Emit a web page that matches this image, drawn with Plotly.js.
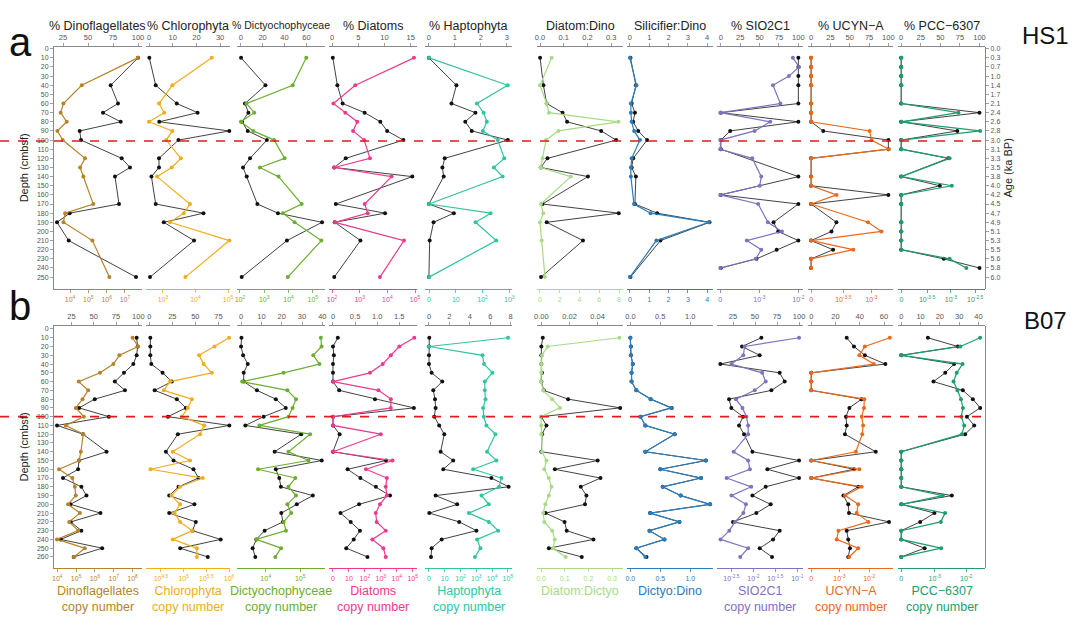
<!DOCTYPE html>
<html>
<head>
<meta charset="utf-8">
<script src="https://cdn.plot.ly/plotly-3.0.1.min.js"></script>
<style>body{margin:0;background:#fff}#chart{width:1080px;height:625px}</style>
</head>
<body>
<div id="chart"></div>
<script>
// ---- data: panel a (HS1) ----
const depthA = [10,40,60,70,80,90,100,120,130,140,170,180,190,210,250];
const dinoPctA = [100,72.7,80,65,82.7,41.7,43,83.7,92,77,81,31.7,19,30.7,98];
const dinoCopyA = [7.70,4.64,3.64,3.49,3.82,3.31,3.6,4.82,4.55,4.73,5.27,3.73,3.64,5.22,6.15];
const chloPctA = [0.1,2.8,11.7,20.5,4.3,33.9,12.4,4.2,4.2,1,2.8,23,6.2,19,0.4];
const chloCopyA = [4.50,3.29,2.88,3.04,2.57,3.29,3.10,3.55,3.27,2.82,3.83,3.64,3.22,5.04,3.69];
const dictPctA = [0.3,22.6,3.9,7,1.2,6.4,23.9,8.5,2.1,5.5,15.2,34,74.3,42.2,0.9];
const dictCopyA = [4.73,4.17,2.27,2.59,2.04,2.55,3.41,3.84,2.82,3.59,4.54,3.77,4.25,5.35,3.97];
const diatPctA = [0.13,1.0,2.0,6.2,9.2,10.5,13.6,2.6,0.4,15.3,0.7,10.1,0.5,5.4,0.4];
const diatCopyA = [4.96,2.84,2.05,2.48,2.91,2.76,3.16,3.37,2.08,4.15,3.18,3.29,2.11,4.6,3.73];
const haptPctA = [0,1.06,0.87,1.79,1.4,1.65,3.04,0.61,0.52,0.57,0,0.96,0.18,0.03,0];
const haptCopyA = [0,2.94,1.79,2.04,2.16,2.01,2.57,2.81,2.42,2.75,0,2.3,1.74,2.51,0];
const diatDinoA = [0,0.014,0.028,0.095,0.114,0.258,0.321,0.031,0.003,0.202,0.01,0.332,0.028,0.181,0.004];
const diatDinoCopyA = [1.18,0,0.68,0.91,7.93,1.86,0.61,0.27,0.07,3.11,0.1,0.34,0,0.17,0.51];
const silDinoA = [0.03,0.31,0.09,0.26,0.17,0.43,0.89,0.17,0.09,0.31,0.26,1.41,4.12,1.58,0.03];
const silDinoCopyA = [0,0.34,0.05,0.05,0.09,0.22,0.52,0.09,0.05,0.05,0.21,1.07,4.09,1.37,0];
const depthA2 = [10,20,30,40,60,70,80,90,100,110,120,140,150,160,170,190,200,210,220,230,240];
const sioDepthA = [10,20,30,40,60,70,80,90,100,110,140,160,170,190,200,210,220,230,240];
const sioPctA = [100,100,100,100,100,0,100,12,0,0,100,0,100,68,74,100,72,46,0];
const sioCopyA = [1.86,2.02,1.76,1.35,1.54,0,1.28,0.88,0,0,0.82,1.05,1.01,0,0.97,1.22,1.58,0.68,1.05,0.91,0];
const ucynPctA = [0,0,0,0,0,0,0,15.7,100,100,0,0,0,100,0,32.8,26.4,0,28.5,0,0];
const ucynCopyA = [0,0,0,0,0,0,0,1.82,1.88,2.42,0,0,0,0.79,0,1.77,2.19,0,1.31,0,0];
const pccPctA = [0,0,0,0,0,100,0,71.7,0,0,60,0,49.4,0,0,0,0,0,0,54.4,100];
const pccCopyA = [0,0,0,0,0,2.32,0,3.2,0,0,1.96,0,2.05,0,0,0,0,0,0,1.96,2.64];
const ageTicks = ['0.0','0.3','0.7','1.0','1.4','1.7','2.1','2.4','2.6','2.8','3.0','3.1','3.3','3.5','3.8','4.0','4.2','4.5','4.7','4.9','5.1','5.3','5.5','5.6','5.8','6.0'];

// ---- data: panel b (B07) ----
const depthB = [10,20,30,40,50,60,70,80,90,100,110,120,140,150,160,170,180,190,200,210,220,230,240,250,260];
const dinoPctB = [98.1,99.2,98.1,94.4,83.9,73.7,85,51.2,33.6,67,8.9,38.1,64.4,33.6,32.5,15.6,36.2,41.9,23.9,57.6,24.3,36.2,13,59.5,27.6];
const dinoCopyB = [8.0,8.29,7.30,6.98,6.27,5.14,5.64,5.34,4.98,5.41,4.45,5.38,5.25,5.16,4.09,4.80,4.93,4.98,4.57,5.2,4.63,5.11,3.98,5.46,4.88];
const chloPctB = [1.1,1.1,1.1,2.2,14.4,24.5,5.8,29.9,39.7,20.2,86.9,31,18,26.3,48,53.4,31.7,21.6,49,21.6,50.5,46.9,77.5,33.5,63.5];
const chloCopyB = [6.0,5.68,5.34,5.44,5.62,4.70,4.56,5.18,5.09,4.96,5.45,5.36,4.76,5.14,4.27,5.42,4.92,4.73,4.92,4.80,4.92,5.19,4.76,5.29,5.29];
const dictPctB = [0.2,0,1,3.3,1.3,1.3,7.8,17.1,22,11.1,2.1,29.6,16.5,39.7,17.1,18.8,19.6,35.3,27.4,19.8,20.6,11.6,7.5,5.7,7];
const dictCopyB = [5.60,5.62,5.38,5.56,4.52,3.32,4.63,4.88,4.78,4.66,3.82,5.29,4.66,5.24,3.78,4.86,4.66,4.88,4.63,4.74,4.52,4.59,3.73,4.45,4.28];
const diatPctB = [0.11,0,0.02,0,0,0,0.14,0.95,1.83,0,0,0.15,0,1.2,0.33,0.62,0.97,1.29,0.59,0.17,0.4,0.61,0.47,0.3,0.78];
const diatCopyB = [5.1,4.16,3.63,3.12,2.32,0,2.85,3.63,3.63,0,0,3.0,0,3.73,2.07,3.38,3.31,3.38,2.95,2.68,2.74,3.31,2.47,3.16,3.31];
const haptPctB = [0.03,0,0,0,0.26,1.3,0.42,0.59,0.65,0.52,1.0,1.5,1.14,2.37,1.4,6.11,7.8,0.65,2.76,0.03,2.96,4.65,1.24,0.26,0.2];
const haptCopyB = [5.01,0,3.39,3.49,4.02,3.54,3.54,3.58,3.43,3.47,3.64,4.21,3.68,4.27,2.8,4.59,4.44,3.33,3.79,2.53,3.79,4.38,3.05,3.26,2.91];
const diatDictB = [0.001,0,0,0,0.0005,0,0.0017,0.019,0.056,0,0.0036,0.0005,0,0.04,0.0096,0.042,0.028,0.032,0.031,0.003,0.0165,0.018,0.037,0.0053,0.0287];
const diatDictCopyB = [0.331,0.028,0.004,0.001,0.001,0,0.009,0.047,0.08,0,0.001,0.001,0.004,0.023,0.014,0.033,0.044,0.033,0.018,0.009,0.014,0.047,0.058,0.051,0.104];
const dictDinoB = [0,0.01,0.01,0.04,0.02,0.02,0.1,0.34,0.69,0.17,0.25,0.74,0.25,1.26,0.5,1.18,0.54,0.84,1.33,0.33,0.82,0.32,0.57,0.1,0.27];
const dictDinoCopyB = [0,0.01,0.01,0.04,0.02,0.02,0.1,0.34,0.68,0.17,0.25,0.74,0.25,1.26,0.5,1.18,0.54,0.84,1.33,0.33,0.82,0.32,0.57,0.1,0.25];
const sioPctB = [57.2,35.2,55.3,10.6,78,83.7,68.6,20.5,23.1,36.4,31.8,37.5,47,100,64,100,62.1,47,67.8,51.5,25,78,70.5,55.3,69.3];
const sioCopyB = [-0.96,-2.2,-2.23,-2.5,-1.8,-1.72,-1.97,-2.4,-2.25,-2.16,-2.12,-2.12,-2.45,-2.12,-2.08,-2.61,-2.05,-2.5,-2.17,-2.23,-2.42,-2.55,-2.75,-2.12,-2.3];
const ucynPctB = [29.2,35.2,44.2,61.1,0,0,0,41.5,31.4,28.6,29.2,27.8,53.2,0,35.2,0,38.7,26.5,30.5,31.1,64.1,29.2,30.5,31.9,30.5];
const ucynCopyB = [2.71,1.85,1.66,2.16,0,0,0,1.83,1.82,1.74,1.79,1.76,1.54,0,1.66,0,1.74,1.17,1.62,1.57,1.97,0.94,0.88,1.62,1.31];
const pccPctB = [13.8,29.3,0,27.4,22.8,16.7,31.9,37.1,40.9,34,37.8,33.1,0,0,0,0,0,26.2,0,17.2,9.8,0,0,12.1,0];
const pccCopyB = [2.43,1.82,0,1.89,1.71,1.61,1.73,1.84,1.9,1.85,1.94,1.87,0,0,0,0,0,1.28,0,1.35,1.22,0,0,1.23,0];

// ---- styling ----
const C = {dino:'#b5832c', chlo:'#f0ad1c', dict:'#6cae2f', diat:'#ec3b8d', hapt:'#31c4a2',
           ddino:'#a7db86', sil:'#2b7cba', sio:'#8172c0', ucyn:'#e96a1c', pcc:'#1f9d6f'};
const FONT = 'Liberation Sans, Arial, sans-serif';
const colX0 = [53,146,237,329,425,537,627,717,808,898];
const colX1 = [142,230,325,417,512,623,713,803,893,985];
const W = 1080, H = 625;
const pw = n => '10<sup>' + n + '</sup>';
const pseudo5 = ['0','10',pw(2),pw(3),pw(4),pw(5)];

const colsA = [
  {head:'% Dinoflagellates', c:C.dino, d1:depthA, v1:dinoPctA, d2:depthA, v2:dinoCopyA,
   top:[15,104,[25,50,75,100]], bot:[3.07,7.93,[4,5,6,7],[4,5,6,7].map(pw)]},
  {head:'% Chlorophyta', c:C.chlo, d1:depthA, v1:chloPctA, d2:depthA, v2:chloCopyA,
   top:[-1.3,34.2,[0,10,20,30]], bot:[2.48,5.06,[3,4,5],[3,4,5].map(pw)]},
  {head:'% Dictyochophyceae', small:true, c:C.dict, d1:depthA, v1:dictPctA, d2:depthA, v2:dictCopyA,
   top:[-3.4,77,[0,20,40,60]], bot:[1.88,5.5,[2,3,4,5],[2,3,4,5].map(pw)]},
  {head:'% Diatoms', c:C.diat, d1:depthA, v1:diatPctA, d2:depthA, v2:diatCopyA,
   top:[-0.6,16.2,[0,5,10,15]], bot:[1.89,5.07,[2,3,4,5],[2,3,4,5].map(pw)]},
  {head:'% Haptophyta', c:C.hapt, d1:depthA, v1:haptPctA, d2:depthA, v2:haptCopyA,
   top:[-0.15,3.2,[0,1,2,3]], bot:[-0.15,3.1,[0,1,2,3],pseudo5.slice(0,4)]},
  {head:'Diatom:Dino', c:C.ddino, d1:depthA, v1:diatDinoA, d2:depthA, v2:diatDinoCopyA,
   top:[-0.013,0.35,[0,0.1,0.2,0.3],['0.0','0.1','0.2','0.3']], bot:[-0.3,8.4,[0,2,4,6,8]]},
  {head:'Silicifier:Dino', c:C.sil, d1:depthA, v1:silDinoA, d2:depthA, v2:silDinoCopyA,
   top:[-0.15,4.3,[0,1,2,3,4]], bot:[-0.15,4.3,[0,1,2,3,4]]},
  {head:'% SIO2C1', c:C.sio, d1:sioDepthA, v1:sioPctA, d2:depthA2, v2:sioCopyA,
   top:[-5,106,[0,25,50,75,100]], bot:[-0.085,2.12,[0,1,2],['0',pw(-3),pw(-2)]]},
  {head:'% UCYN\u2212A', c:C.ucyn, d1:depthA2, v1:ucynPctA, d2:depthA2, v2:ucynCopyA,
   top:[-4,106,[0,25,50,75,100]], bot:[-0.1,2.55,[0,1,1.88],['0',pw(-3.5),pw(-3)]]},
  {head:'% PCC\u22126307', c:C.pcc, d1:depthA2, v1:pccPctA, d2:depthA2, v2:pccCopyA,
   top:[-4,107,[0,25,50,75,100]], bot:[-0.14,3.4,[0,1.04,2.01,3],['0',pw(-3.5),pw(-3),pw(-2.5)]]}
];
const colsB = [
  {foot:'Dinoflagellates<br>copy number', c:C.dino, v1:dinoPctB, v2:dinoCopyB,
   top:[4.4,104.1,[25,50,75,100]], bot:[3.77,8.5,[4,5,6,7,8],[4,5,6,7,8].map(pw)]},
  {foot:'Chlorophyta<br>copy number', c:C.chlo, v1:chloPctB, v2:chloCopyB,
   top:[-3.6,87.6,[0,25,50,75]], bot:[4.17,6.02,[4.5,5,5.5,6],[4.5,5,5.5,6].map(pw)]},
  {foot:'Dictyochophyceae<br>copy number', c:C.dict, v1:dictPctB, v2:dictCopyB,
   top:[-2,41.3,[0,10,20,30,40]], bot:[3.17,5.72,[4,5],[4,5].map(pw)]},
  {foot:'Diatoms<br>copy number', c:C.diat, v1:diatPctB, v2:diatCopyB,
   top:[-0.09,1.9,[0,0.5,1,1.5],['0','0.5','1.0','1.5']], bot:[-0.25,5.27,[0,1,2,3,4,5],pseudo5]},
  {foot:'Haptophyta<br>copy number', c:C.hapt, v1:haptPctB, v2:haptCopyB,
   top:[-0.39,8.13,[0,2,4,6,8]], bot:[-0.25,5.26,[0,1,2,3,4,5],pseudo5]},
  {foot:'Diatom:Dictyo', c:C.ddino, v1:diatDictB, v2:diatDictCopyB,
   top:[-0.0031,0.058,[0,0.02,0.04],['0.00','0.02','0.04']], bot:[-0.017,0.346,[0,0.1,0.2,0.3],['0.0','0.1','0.2','0.3']]},
  {foot:'Dictyo:Dino', c:C.sil, v1:dictDinoB, v2:dictDinoCopyB,
   top:[-0.056,1.38,[0,0.5,1],['0.0','0.5','1.0']], bot:[-0.056,1.38,[0,0.5,1],['0.0','0.5','1.0']]},
  {foot:'SIO2C1<br>copy number', c:C.sio, v1:sioPctB, v2:sioCopyB,
   top:[6.8,104.5,[25,50,75,100]], bot:[-2.83,-0.87,[-2.5,-2,-1.5,-1],[-2.5,-2,-1.5,-1].map(pw)]},
  {foot:'UCYN\u2212A<br>copy number', c:C.ucyn, v1:ucynPctB, v2:ucynCopyB,
   top:[-2.7,67.4,[0,20,40,60]], bot:[-0.11,2.82,[0,0.97,2],['0',pw(-3),pw(-2)]]},
  {foot:'PCC\u22126307<br>copy number', c:C.pcc, v1:pccPctB, v2:pccCopyB,
   top:[-1.7,43.4,[0,10,20,30,40]], bot:[-0.1,2.58,[0,1.03,2],['0',pw(-3),pw(-2)]]}
];
colsB.forEach(c => { c.d1 = depthB; c.d2 = depthB; });

// panel vertical domains (paper fraction), and depth ranges
const panels = [
  {cols:colsA, dom:[(H-289)/H,(H-46.7)/H], yr:[263,-2.2], ticks:depthTicks(250), yid:'y'},
  {cols:colsB, dom:[(H-568)/H,(H-326)/H], yr:[272.6,-3.4], ticks:depthTicks(260), yid:'y2'}
];
function depthTicks(max){ const t=[]; for(let v=0; v<=max; v+=10) t.push(v); return t; }

const data = [];
const layout = {
  width:W, height:H, margin:{l:0,r:0,t:0,b:0},
  paper_bgcolor:'#fff', plot_bgcolor:'rgba(0,0,0,0)',
  showlegend:false, font:{family:FONT, color:'#333'},
  shapes:[], annotations:[]
};

function axisBase(){
  return {showgrid:false, zeroline:false, showline:true, ticks:'outside', ticklen:3, tickwidth:0.8, linewidth:1.2};
}

let ax = 1;
panels.forEach((p, pi) => {
  const yName = pi === 0 ? 'yaxis' : 'yaxis2';
  layout[yName] = Object.assign(axisBase(), {
    domain:p.dom, range:p.yr, anchor:'free', position:colX0[0]/W,
    tickvals:p.ticks, tickfont:{size:7, color:'#555'}, linecolor:'#888', tickcolor:'#888',
    title:{text:'Depth (cmbsf)', font:{size:11, color:'#222'}, standoff:4}
  });
  p.cols.forEach((col, ci) => {
    const dom = [colX0[ci]/W, colX1[ci]/W];
    const tId = ax, bId = ax + 1; ax += 2;
    const tName = 'xaxis' + (tId === 1 ? '' : tId), bName = 'xaxis' + bId;
    layout[tName] = Object.assign(axisBase(), {
      domain:dom, range:[col.top[0], col.top[1]], anchor:p.yid, side:'top',
      tickvals:col.top[2], ticktext:col.top[3], linecolor:'#888', tickcolor:'#888',
      tickfont:{size:7.5, color:'#555'}
    });
    layout[bName] = Object.assign(axisBase(), {
      domain:dom, range:[col.bot[0], col.bot[1]], anchor:p.yid, side:'bottom',
      tickvals:col.bot[2], ticktext:col.bot[3], linecolor:col.c, tickcolor:col.c,
      tickfont:{size:7, color:col.c}
    });
    const tx = tId === 1 ? 'x' : 'x' + tId;
    data.push({x:col.v1, y:col.d1, xaxis:tx, yaxis:p.yid, type:'scatter', mode:'lines+markers',
      line:{color:'#111', width:0.8}, marker:{color:'#111', size:4}, cliponaxis:false});
    data.push({x:col.v2, y:col.d2, xaxis:'x' + bId, yaxis:p.yid, type:'scatter', mode:'lines+markers',
      line:{color:col.c, width:1.2}, marker:{color:col.c, size:4}, cliponaxis:false});
    const cx = (colX0[ci] + colX1[ci]) / 2 / W;
    if (col.head) layout.annotations.push({xref:'paper', yref:'paper', x:cx, xanchor:'center', y:(H-17)/H,
      text:col.head, showarrow:false, font:{size:col.small ? 10.5 : 12.5, color:'#222'}});
    if (col.foot) layout.annotations.push({xref:'paper', yref:'paper', x:cx, xanchor:'center', y:(H-582)/H,
      yanchor:'top', text:col.foot, showarrow:false, font:{size:12.5, color:col.c}});
  });
});

// right-hand axes: age scale for HS1, plain frame line for B07
layout.yaxis3 = Object.assign(axisBase(), {
  domain:panels[0].dom, range:panels[0].yr, overlaying:'y', side:'right', anchor:'free',
  position:colX1[9]/W, tickvals:panels[0].ticks, ticktext:ageTicks,
  tickfont:{size:7, color:'#555'}, linecolor:'#888', tickcolor:'#888',
  title:{text:'Age (ka BP)', font:{size:11, color:'#222'}, standoff:4}
});
layout.yaxis4 = Object.assign(axisBase(), {
  domain:panels[1].dom, range:panels[1].yr, overlaying:'y2', side:'right', anchor:'free',
  position:colX1[9]/W, showticklabels:false, ticks:'', linecolor:'#888'
});
data.push({x:[null], y:[null], yaxis:'y3', xaxis:'x', hoverinfo:'skip'});
data.push({x:[null], y:[null], yaxis:'y4', xaxis:'x21', hoverinfo:'skip'});

// Holocene boundary lines
[['y',101],['y2',100]].forEach(([yr, d]) => layout.shapes.push({type:'line', xref:'paper', yref:yr,
  x0:0, x1:colX1[9]/W, y0:d, y1:d, line:{color:'#e31a1c', width:1.6, dash:'dash'}}));

// panel letters and site names
[['a',(H-18)/H],['b',(H-306)/H]].forEach(([t,y]) => layout.annotations.push({xref:'paper', yref:'paper',
  x:20/W, xanchor:'center', y:y, text:t, showarrow:false, font:{size:40, color:'#111'}}));
[['HS1',(H-20)/H],['B07',(H-320)/H]].forEach(([t,y]) => layout.annotations.push({xref:'paper', yref:'paper',
  x:1045/W, xanchor:'center', y:y, text:t, showarrow:false, font:{size:24, color:'#111'}}));

Plotly.newPlot('chart', data, layout, {staticPlot:true});
</script>
</body>
</html>
